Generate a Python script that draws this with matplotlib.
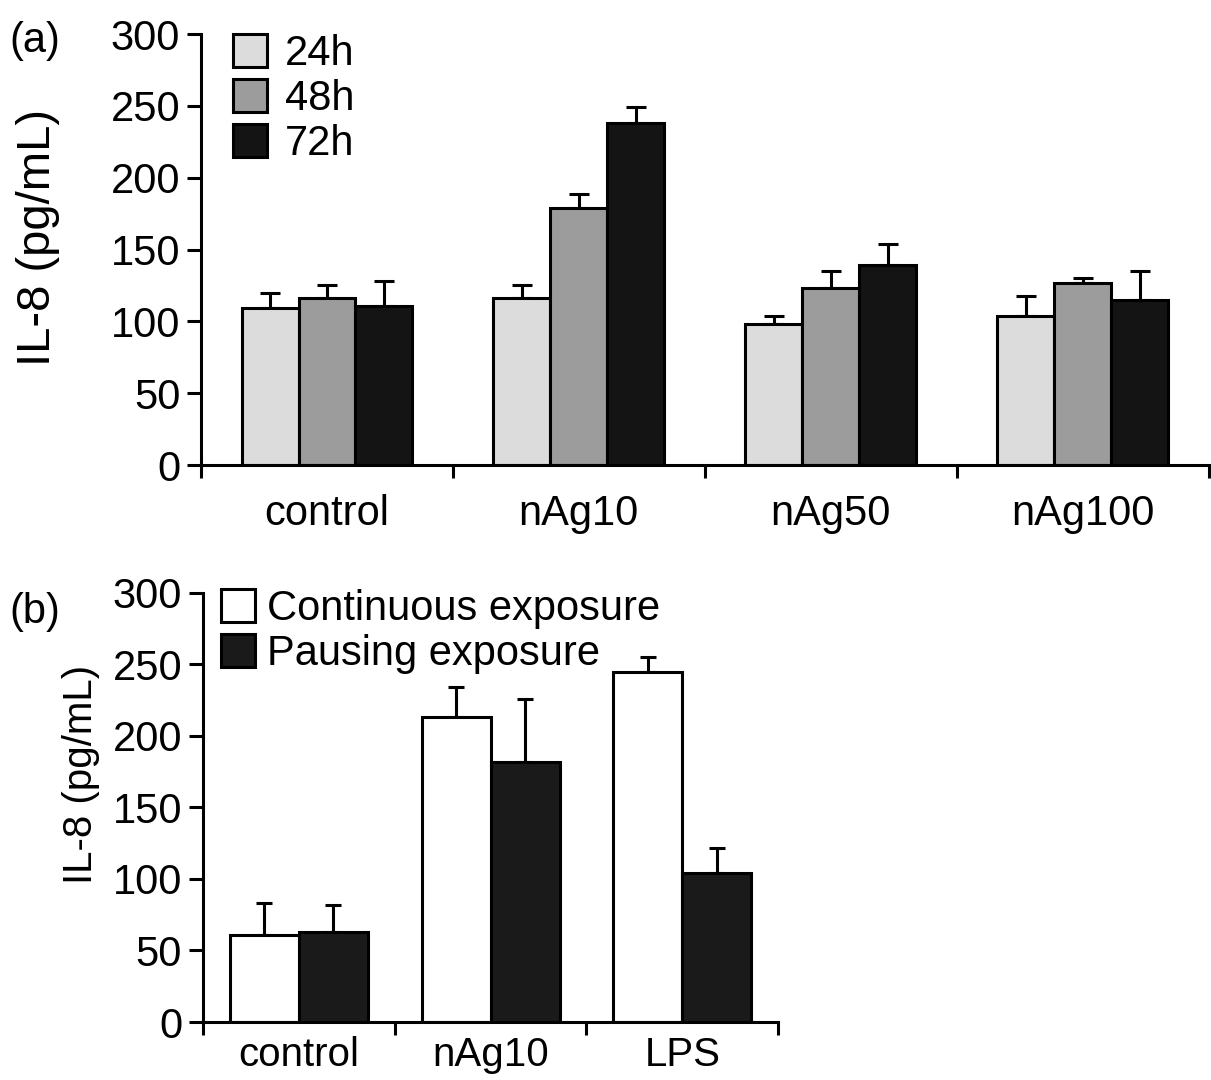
import numpy as np
import matplotlib.pyplot as plt
from matplotlib.patches import Patch

plt.rcParams['font.family'] = ['Liberation Sans', 'DejaVu Sans']

# panel (a) data
groups_a = ['control', 'nAg10', 'nAg50', 'nAg100']
times = ['24h', '48h', '72h']
il8_24 = [109, 116, 98, 104]
il8_48 = [116, 179, 123, 127]
il8_72 = [111, 238, 139, 115]
err_24 = [11, 9, 6, 14]
err_48 = [9, 10, 12, 3]
err_72 = [17, 11, 15, 20]

# panel (b) data
groups_b = ['control', 'nAg10', 'LPS']
modes = ['Continuous exposure', 'Pausing exposure']
cont = [61, 213, 245]
paus = [63, 182, 104]
err_cont = [22, 21, 10]
err_paus = [19, 44, 18]

FS = 30
LW = 2.2

fig = plt.figure(figsize=(12.11, 10.80), dpi=100)
ax1 = fig.add_axes([0.166, 0.5694, 0.832, 0.3991])
ax2 = fig.add_axes([0.1676, 0.0537, 0.475, 0.3973])


def style(ax, ncat, labels, xfs, xpad):
    for s in ['top', 'right']:
        ax.spines[s].set_visible(False)
    for s in ['left', 'bottom']:
        ax.spines[s].set_linewidth(LW)
    ax.set_ylim(0, 300)
    ax.set_yticks(np.arange(0, 301, 50))
    ax.set_xlim(0, ncat)
    ax.set_xticks(np.arange(ncat + 1))
    ax.set_xticklabels([])
    ax.set_xticks(np.arange(ncat) + 0.5, minor=True)
    ax.set_xticklabels(labels, minor=True, fontsize=xfs)
    ax.tick_params(axis='x', which='minor', length=0, pad=xpad)
    ax.tick_params(axis='x', which='major', length=9, width=LW, direction='out')
    ax.tick_params(axis='y', length=10, width=LW, labelsize=FS, pad=5)


# (a)
x = np.arange(len(groups_a)) + 0.5
w = 0.226
cols_a = ['#dcdcdc', '#9c9c9c', '#141414']
vals_a = [il8_24, il8_48, il8_72]
errs_a = [err_24, err_48, err_72]
for i in range(3):
    xx = x + (i - 1) * w
    ax1.bar(xx, vals_a[i], w, color=cols_a[i], edgecolor='black', linewidth=LW, zorder=2)
    ax1.errorbar(xx, vals_a[i], yerr=[np.zeros(len(xx)), errs_a[i]], fmt='none',
                 ecolor='black', elinewidth=LW, capsize=7, capthick=LW, zorder=1)
style(ax1, len(groups_a), groups_a, FS, 21)
ax1.set_ylabel('IL-8 (pg/mL)', fontsize=34)
ax1.yaxis.set_label_coords(-0.14, 0.527)
handles = [Patch(facecolor=c, edgecolor='black', linewidth=LW) for c in cols_a]
ax1.legend(handles, times, loc='upper left', bbox_to_anchor=(0.032, 1.0), frameon=False,
           fontsize=FS, handlelength=0.82, handleheight=0.82, handletextpad=0.42,
           labelspacing=0.12, borderaxespad=0, borderpad=0)
fig.text(0.008, 0.962, '(a)', fontsize=FS, va='center')

# (b)
x2 = np.arange(len(groups_b)) + 0.5
w2 = 0.36
cols_b = ['white', '#1a1a1a']
vals_b = [cont, paus]
errs_b = [err_cont, err_paus]
for i in range(2):
    xx = x2 + (i - 0.5) * w2
    ax2.bar(xx, vals_b[i], w2, color=cols_b[i], edgecolor='black', linewidth=LW, zorder=2)
    ax2.errorbar(xx, vals_b[i], yerr=[np.zeros(len(xx)), errs_b[i]], fmt='none',
                 ecolor='black', elinewidth=LW, capsize=5.5, capthick=LW, zorder=1)
style(ax2, len(groups_b), groups_b, 29, 10)
ax2.set_ylabel('IL-8 (pg/mL)', fontsize=29)
ax2.yaxis.set_label_coords(-0.179, 0.576)
handles = [Patch(facecolor=c, edgecolor='black', linewidth=LW) for c in cols_b]
ax2.legend(handles, modes, loc='upper left', bbox_to_anchor=(0.031, 1.009), frameon=False,
           fontsize=FS, handlelength=0.82, handleheight=0.82, handletextpad=0.3,
           labelspacing=0.12, borderaxespad=0, borderpad=0)
fig.text(0.008, 0.433, '(b)', fontsize=FS, va='center')

fig.savefig('out.png', dpi=100)
